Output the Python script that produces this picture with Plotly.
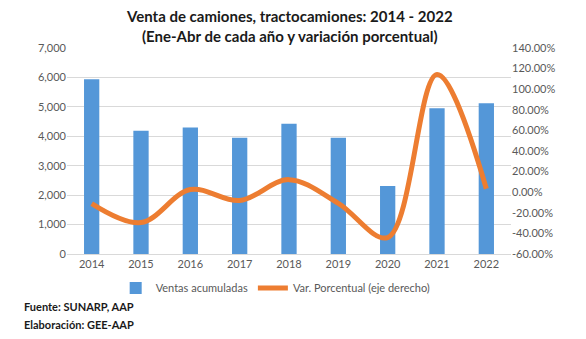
import plotly.graph_objects as go

years = ["2014", "2015", "2016", "2017", "2018", "2019", "2020", "2021", "2022"]
ventas = [5940, 4190, 4300, 3950, 4430, 3950, 2310, 4950, 5120]
var_pct = [-11.0, -29.5, 2.6, -8.1, 12.2, -10.8, -44.0, 114.3, 3.4]

left_ticks = [0, 1000, 2000, 3000, 4000, 5000, 6000, 7000]
right_ticks = [-60, -40, -20, 0, 20, 40, 60, 80, 100, 120, 140]
right_labels = [f"{v:.2f}%" for v in right_ticks]

FONT = "Lato"
TICK_COLOR = "#595959"

fig = go.Figure()
fig.add_trace(go.Bar(
    x=years, y=ventas, name="Ventas acumuladas",
    marker=dict(color="#5497D8", line=dict(width=0)),
    width=0.31,
))
fig.add_trace(go.Scatter(
    x=years, y=var_pct, name="Var. Porcentual (eje derecho)",
    mode="lines", yaxis="y2",
    line=dict(color="#ED7D31", width=5, shape="spline", smoothing=1.0),
))

fig.update_layout(
    width=586, height=339,
    margin=dict(l=67, r=75, t=48, b=85),
    paper_bgcolor="white", plot_bgcolor="white",
    font=dict(family=FONT, color=TICK_COLOR, size=11),
    bargap=0.69,
    showlegend=True,
    legend=dict(
        orientation="h", x=0.47, xanchor="center", y=-0.095, yanchor="top",
        font=dict(family=FONT, size=11, color=TICK_COLOR),
        itemwidth=30, traceorder="normal",
        bgcolor="rgba(0,0,0,0)",
    ),
    xaxis=dict(
        type="category", showgrid=False, showline=True,
        linecolor="#D9D9D9", linewidth=1, ticks="",
        tickfont=dict(size=11, color=TICK_COLOR),
    ),
    yaxis=dict(
        range=[0, 7000], tickvals=left_ticks, tickformat=",",
        showgrid=True, gridcolor="#D9D9D9", gridwidth=1,
        zeroline=False, showline=False, ticks="",
        tickfont=dict(size=11, color=TICK_COLOR),
    ),
    yaxis2=dict(
        overlaying="y", side="right", range=[-60, 140],
        tickvals=right_ticks, ticktext=right_labels,
        showgrid=False, zeroline=False, showline=False, ticks="",
        tickfont=dict(size=11, color=TICK_COLOR),
    ),
)

fig.add_annotation(
    text="<b>Venta de camiones, tractocamiones: 2014 - 2022<br>(Ene-Abr de cada año y variación porcentual)</b>",
    xref="paper", yref="paper", x=0.5, y=1.21, xanchor="center", yanchor="top",
    showarrow=False, font=dict(family=FONT, size=15, color="#1a1a1a"),
)
fig.add_annotation(
    text="<b>Fuente: SUNARP, AAP</b>", xref="paper", yref="paper",
    x=-0.101, y=-0.255, xanchor="left", yanchor="middle", showarrow=False,
    font=dict(family=FONT, size=11, color="#1a1a1a"),
)
fig.add_annotation(
    text="<b>Elaboración: GEE-AAP</b>", xref="paper", yref="paper",
    x=-0.101, y=-0.34, xanchor="left", yanchor="middle", showarrow=False,
    font=dict(family=FONT, size=11, color="#1a1a1a"),
)

fig.write_html("out.html")
